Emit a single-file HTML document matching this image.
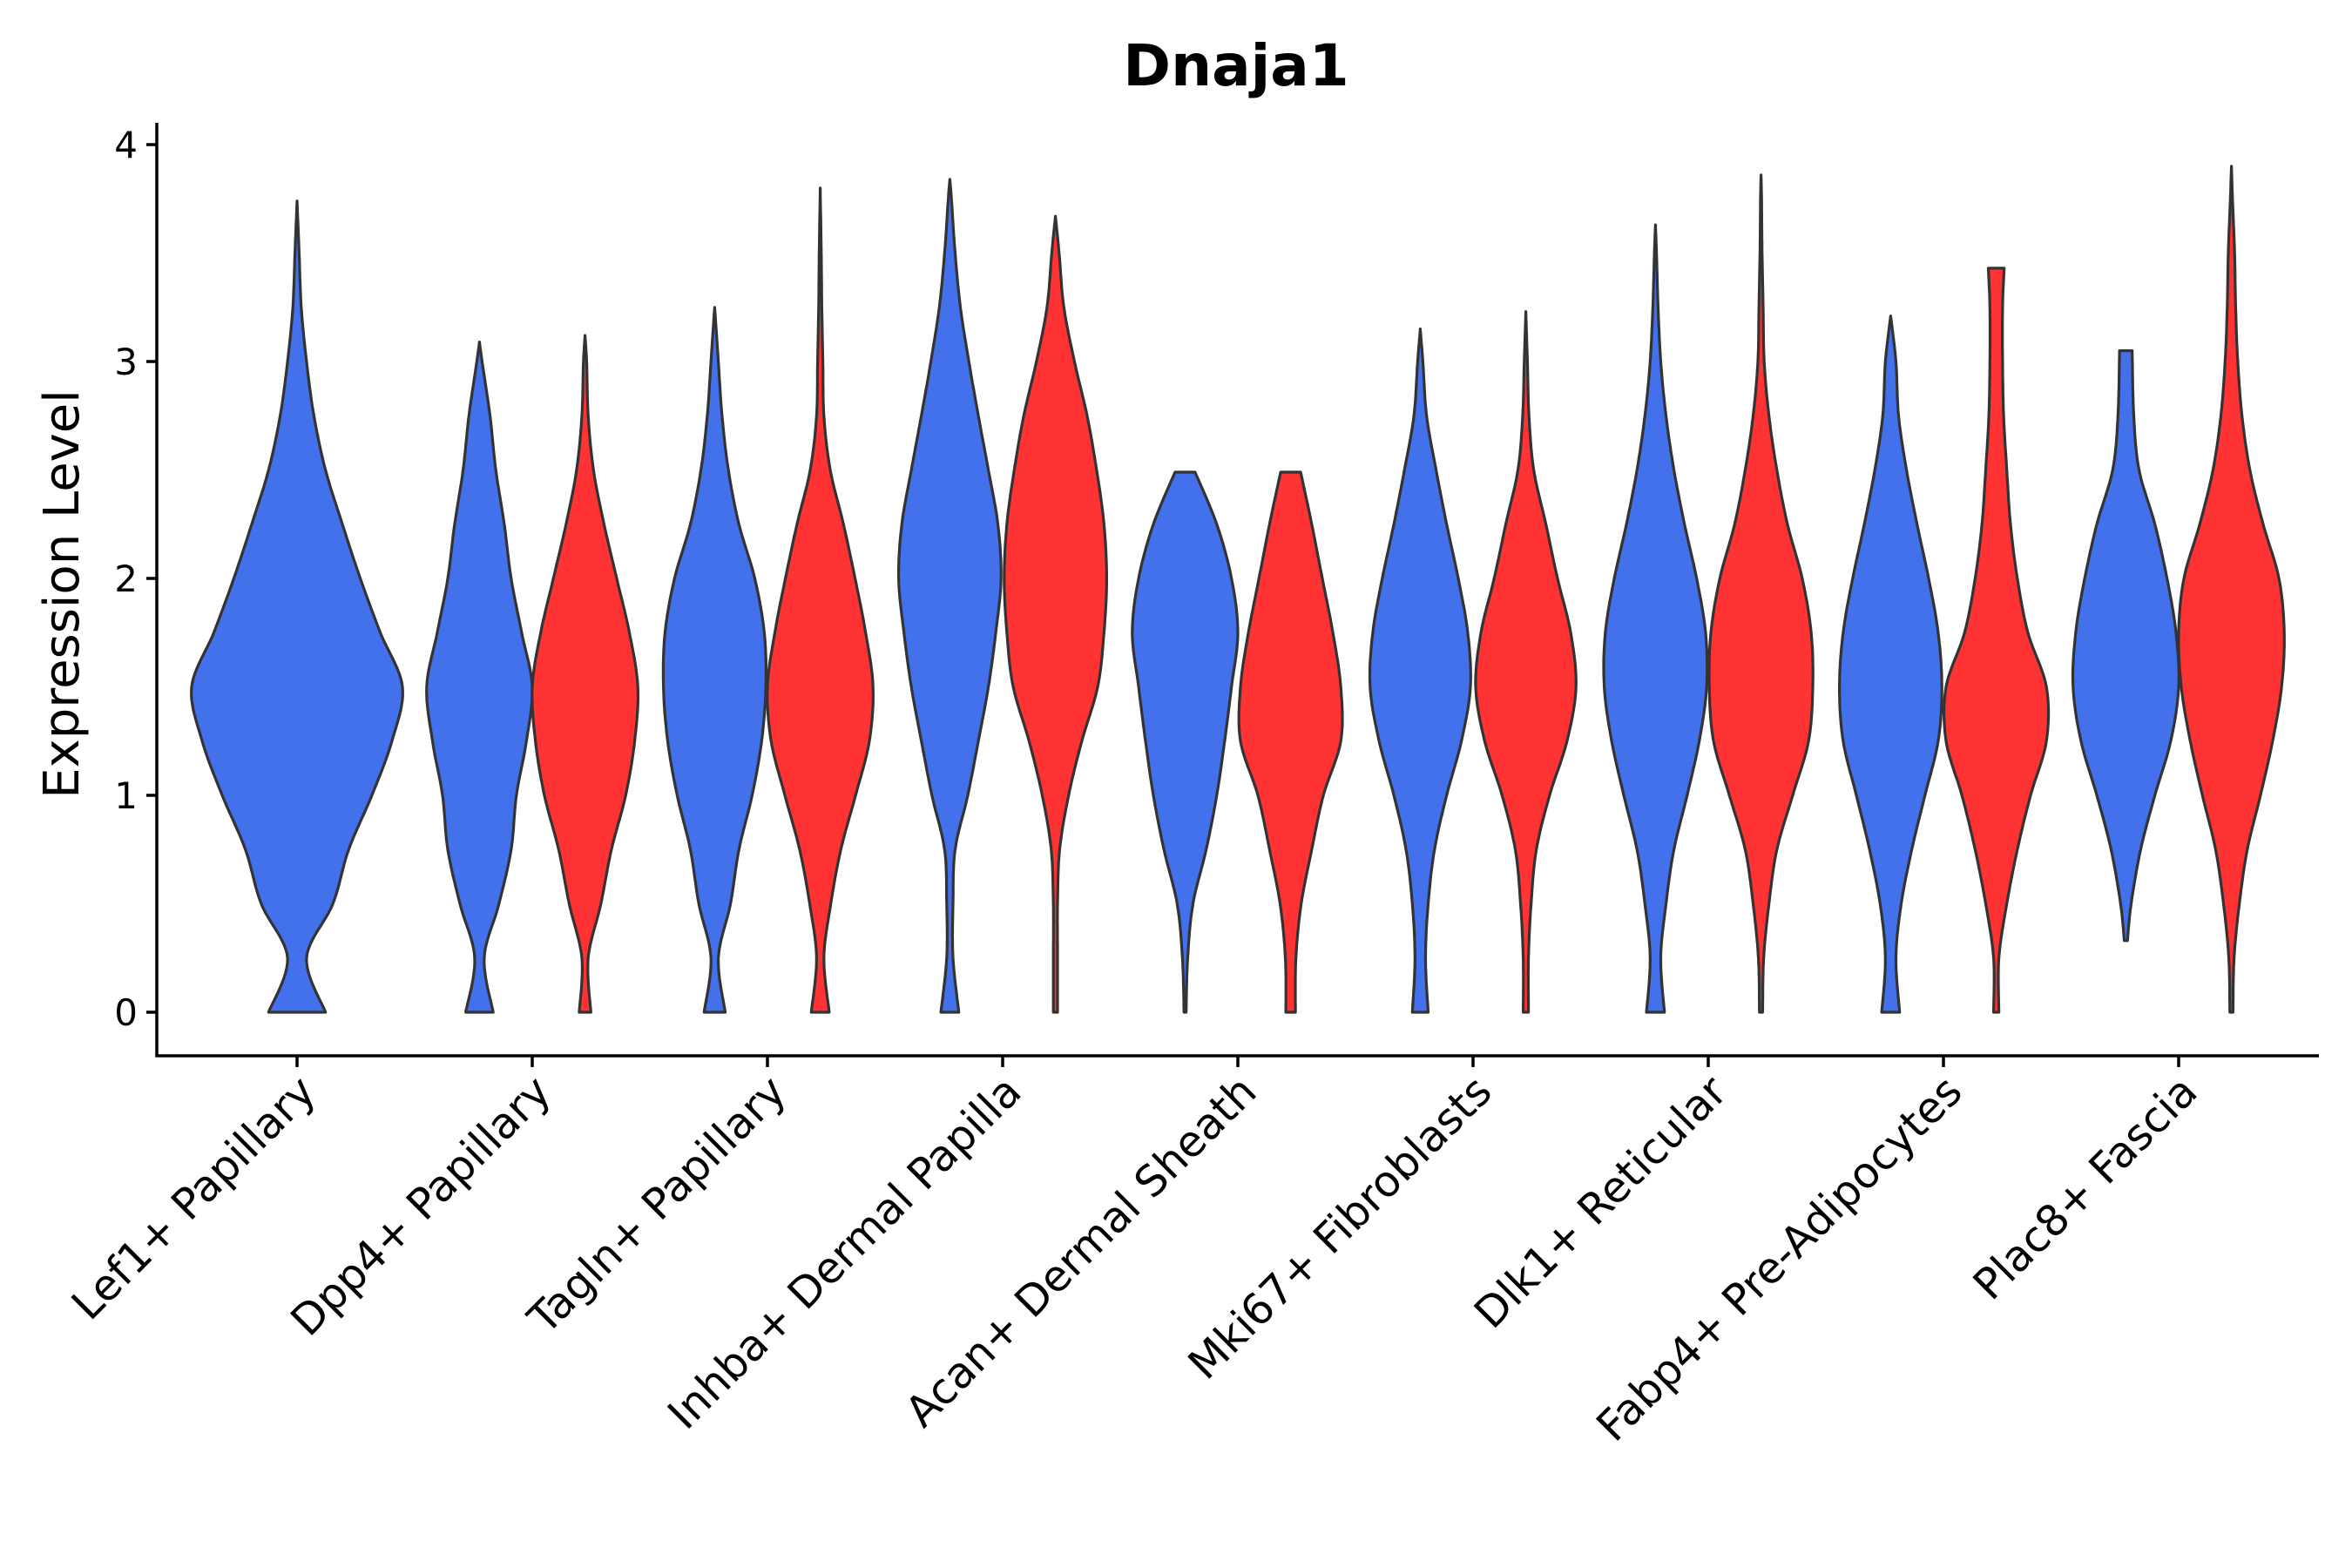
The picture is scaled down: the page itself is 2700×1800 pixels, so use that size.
<!DOCTYPE html>
<html><head><meta charset="utf-8"><style>
html,body{margin:0;padding:0;background:#fff;}
svg{display:block;font-family:"DejaVu Sans","Liberation Sans",sans-serif;}
</style></head><body>
<svg id="chart" width="2700" height="1800" viewBox="0 0 2700 1800">
<text x="1419" y="98" text-anchor="middle" font-size="66" font-weight="bold">Dnaja1</text>
<text transform="translate(90,682) rotate(-90)" text-anchor="middle" font-size="56">Expression Level</text>
<g id="violins"></g>
<g id="axes"></g>
</svg>
<script>
const categories = ["Lef1+ Papillary","Dpp4+ Papillary","Tagln+ Papillary","Inhba+ Dermal Papilla","Acan+ Dermal Sheath","Mki67+ Fibroblasts","Dlk1+ Reticular","Fabp4+ Pre-Adipocytes","Plac8+ Fascia"];
const yTicks = [0,1,2,3,4];
const violinGroup = [0,1,1,2,2,3,3,4,4,5,5,6,6,7,7,8,8];
const violinSeries = ["single","blue","red","blue","red","blue","red","blue","red","blue","red","blue","red","blue","red","blue","red"];
const violinMin = [0,0,0,0,0,0,0,0,0,0,0,0,0,0,0,0.33,0];
const violinMax = [3.74,3.09,3.12,3.25,3.8,3.84,3.67,2.49,2.49,3.15,3.23,3.63,3.86,3.21,3.43,3.05,3.9];
const violinTopWidth = [0,0,0,0,0,0,0,0.19,0.19,0,0,0,0,0,0.15,0.12,0];
const violinMinWidth = [0.27,0.26,0.11,0.2,0.17,0.17,0.04,0.02,0.09,0.15,0.05,0.17,0.03,0.17,0.05,0.03,0.03];
const violinDensity = [
 [0.27,0.09,0.34,0.49,0.71,0.9,1.0,0.79,0.6,0.43,0.27,0.16,0.09,0.04,0.02,0.01],
 [0.26,0.09,0.37,0.6,0.7,0.89,1.0,0.8,0.6,0.47,0.31,0.2,0.05],
 [0.11,0.06,0.3,0.5,0.77,0.94,1.0,0.84,0.6,0.36,0.16,0.06,0.03],
 [0.2,0.07,0.3,0.46,0.71,0.89,0.97,0.94,0.76,0.46,0.26,0.14,0.07],
 [0.17,0.07,0.2,0.39,0.67,0.93,1.0,0.86,0.66,0.44,0.19,0.07,0.05,0.03,0.02,0.01],
 [0.17,0.06,0.06,0.1,0.34,0.54,0.73,0.87,0.97,0.91,0.73,0.54,0.36,0.2,0.1,0.03],
 [0.04,0.04,0.04,0.08,0.25,0.5,0.8,0.92,0.97,0.92,0.78,0.6,0.36,0.16,0.07],
 [0.02,0.05,0.15,0.4,0.6,0.75,0.88,1.0,0.88,0.6],
 [0.09,0.1,0.2,0.4,0.62,0.95,0.95,0.8,0.6,0.4],
 [0.15,0.1,0.15,0.27,0.5,0.78,0.95,0.9,0.72,0.5,0.3,0.12,0.05],
 [0.05,0.05,0.1,0.2,0.45,0.78,0.95,0.85,0.6,0.38,0.15,0.06,0.03],
 [0.17,0.1,0.2,0.35,0.6,0.83,0.97,0.95,0.78,0.55,0.35,0.2,0.1,0.05,0.02],
 [0.03,0.05,0.15,0.3,0.6,0.9,0.98,0.95,0.78,0.5,0.3,0.15,0.06,0.04,0.02,0.01],
 [0.17,0.1,0.2,0.4,0.65,0.9,0.97,0.9,0.72,0.5,0.3,0.15,0.1],
 [0.05,0.05,0.2,0.4,0.65,0.95,0.95,0.6,0.4,0.27,0.2,0.14,0.12,0.12],
 [0.03,0.03,0.1,0.28,0.55,0.85,1.0,0.95,0.78,0.55,0.25,0.15,0.13],
 [0.03,0.05,0.15,0.3,0.55,0.78,0.95,1.0,0.9,0.6,0.35,0.2,0.12,0.08,0.06,0.02]
];
const NS="http://www.w3.org/2000/svg";
const X0=180, X1=2662, Y0=1212, Ytop=141;
const yScale = v => 1162 - v*249;
const xGroup = i => 341 + i*270;
const colors={single:"#4370EB",blue:"#4370EB",red:"#FF3333"};
function mk(tag,attrs,parent){const e=document.createElementNS(NS,tag);for(const k in attrs)e.setAttribute(k,attrs[k]);parent.appendChild(e);return e;}
function crInterp(pts,n){const out=[];for(let i=0;i<pts.length-1;i++){const p0=pts[Math.max(0,i-1)],p1=pts[i],p2=pts[i+1],p3=pts[Math.min(pts.length-1,i+2)];for(let t=0;t<n;t++){const s=t/n,s2=s*s,s3=s2*s;const f=(a,b,c,d)=>0.5*((2*b)+(-a+c)*s+(2*a-5*b+4*c-d)*s2+(-a+3*b-3*c+d)*s3);out.push([f(p0[0],p1[0],p2[0],p3[0]),Math.max(0,f(p0[1],p1[1],p2[1],p3[1]))]);}}out.push(pts[pts.length-1]);return out;}
const vg=document.getElementById('violins');
violinDensity.forEach((dens,k)=>{
  const mn=violinMin[k], mx=violinMax[k];
  const pts=[[mn,violinMinWidth[k]]];
  dens.forEach((w,j)=>{const y=j*0.25; if(y>mn+0.05 && y<mx-0.05) pts.push([y,w]);});
  pts.push([mx,violinTopWidth[k]]);
  const sm=crInterp(pts,12);
  const ser=violinSeries[k];
  const g=violinGroup[k];
  const cx = ser==="single"?xGroup(g):(ser==="blue"?xGroup(g)-60.6:xGroup(g)+60.6);
  const hw = ser==="single"?121:60.6;
  let d="";
  sm.forEach((p,i)=>{d+=(i?"L":"M")+(cx+p[1]*hw).toFixed(1)+","+yScale(p[0]).toFixed(1);});
  for(let i=sm.length-1;i>=0;i--){const p=sm[i];d+="L"+(cx-p[1]*hw).toFixed(1)+","+yScale(p[0]).toFixed(1);}
  d+="Z";
  const path=mk('path',{d:d,fill:colors[ser],stroke:"#333333","stroke-width":3.2,"stroke-linejoin":"round"},vg);
  
  
});
const ax=document.getElementById('axes');
const yl=mk('line',{x1:X0,y1:Ytop,x2:X0,y2:Y0,stroke:"#000","stroke-width":3.5},ax);


const xl=mk('line',{x1:X0-1.7,y1:Y0,x2:X1,y2:Y0,stroke:"#000","stroke-width":3.5},ax);


yTicks.forEach(v=>{
  const t=mk('line',{x1:X0-12,x2:X0,y1:yScale(v),y2:yScale(v),stroke:"#000","stroke-width":3.5},ax);
  
  
  const l=mk('text',{x:X0-22,y:yScale(v)+15,"text-anchor":"end","font-size":42,fill:"#000"},ax);
  l.textContent=v;
  
  
});
categories.forEach((c,i)=>{
  const x=xGroup(i);
  const t=mk('line',{x1:x,x2:x,y1:Y0,y2:Y0+13,stroke:"#000","stroke-width":3.5},ax);
  
  
  const l=mk('text',{transform:`translate(${x+24},${Y0+44}) rotate(-45)`,"text-anchor":"end","font-size":49,fill:"#000"},ax);
  l.textContent=c;
  
  
});
</script>
</body></html>
